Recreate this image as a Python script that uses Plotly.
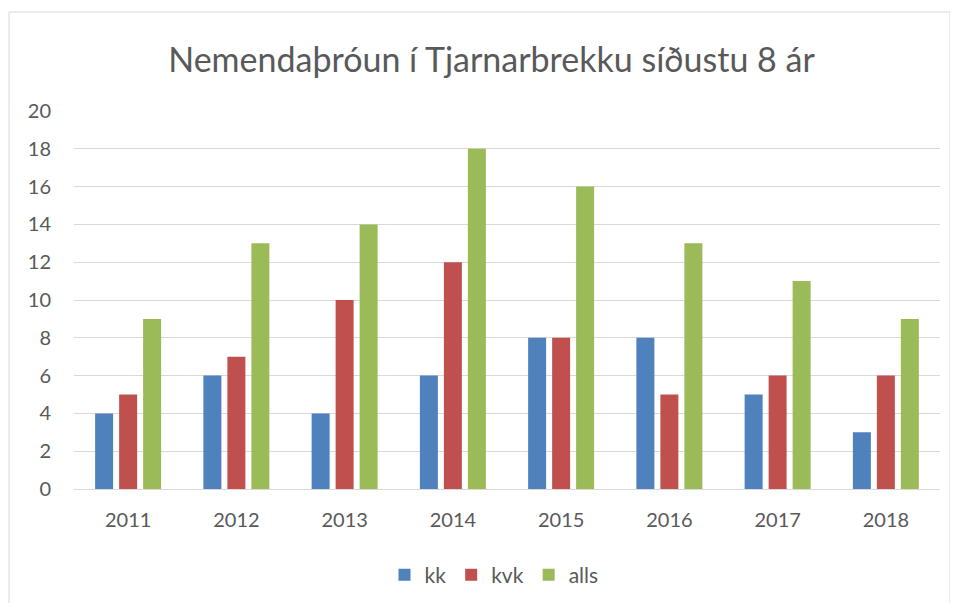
import plotly.graph_objects as go

years = ["2011", "2012", "2013", "2014", "2015", "2016", "2017", "2018"]
kk = [4, 6, 4, 6, 8, 8, 5, 3]
kvk = [5, 7, 10, 12, 8, 5, 6, 6]
alls = [9, 13, 14, 18, 16, 13, 11, 9]
y_ticks = list(range(0, 21, 2))

colors = {"kk": "#4F81BD", "kvk": "#C0504D", "alls": "#9BBB59"}
font_family = "Lato, 'Open Sans', sans-serif"

fig = go.Figure()
for name, vals in [("kk", kk), ("kvk", kvk), ("alls", alls)]:
    fig.add_trace(go.Bar(x=years, y=vals, name=name, marker_color=colors[name],
                         marker_line_width=0))

OFF = 8  # page body margin
W, H = 958, 603
L = 74 - OFF
T = 111 - OFF
R = W - (940 - OFF)
B = H - (489 - OFF)
pw, ph = W - L - R, H - T - B

def px2paper_x(px):
    return (px - OFF - L) / pw

def px2paper_y(py):
    return (H - B - (py - OFF)) / ph

fig.update_layout(
    width=W, height=H,
    margin=dict(l=L, r=R, t=T, b=B),
    paper_bgcolor="white", plot_bgcolor="white",
    barmode="group", bargap=0.335, bargroupgap=0.25,
    title=dict(text="Nemendaþróun í Tjarnarbrekku síðustu 8 ár",
               xref="container", x=(491.5 - OFF) / W, xanchor="center",
               yref="container", y=1 - (60 - OFF) / H, yanchor="middle",
               font=dict(family=font_family, size=34, color="#595959")),
    font=dict(family=font_family, size=20, color="#595959"),
    xaxis=dict(showgrid=False, showline=False, ticks="", ticklabelstandoff=17,
               tickfont=dict(size=20, color="#595959")),
    yaxis=dict(range=[0, 20], tickvals=y_ticks, showgrid=True, gridcolor="#D9D9D9",
               gridwidth=1, zeroline=True, zerolinecolor="#D9D9D9", zerolinewidth=1,
               showline=False, ticks="", ticklabelstandoff=22,
               tickfont=dict(size=20, color="#595959")),
    legend=dict(orientation="h", x=px2paper_x(494), xanchor="center", y=px2paper_y(575), yanchor="middle",
                font=dict(size=21, color="#595959"), itemwidth=30, traceorder="normal"),
    shapes=[dict(type="rect", xref="paper", yref="paper",
                 x0=px2paper_x(9), x1=px2paper_x(950), y0=px2paper_y(640), y1=px2paper_y(12),
                 line=dict(color="#D9D9D9", width=1), fillcolor="rgba(0,0,0,0)", layer="below")],
)

fig.write_html("out.html")
